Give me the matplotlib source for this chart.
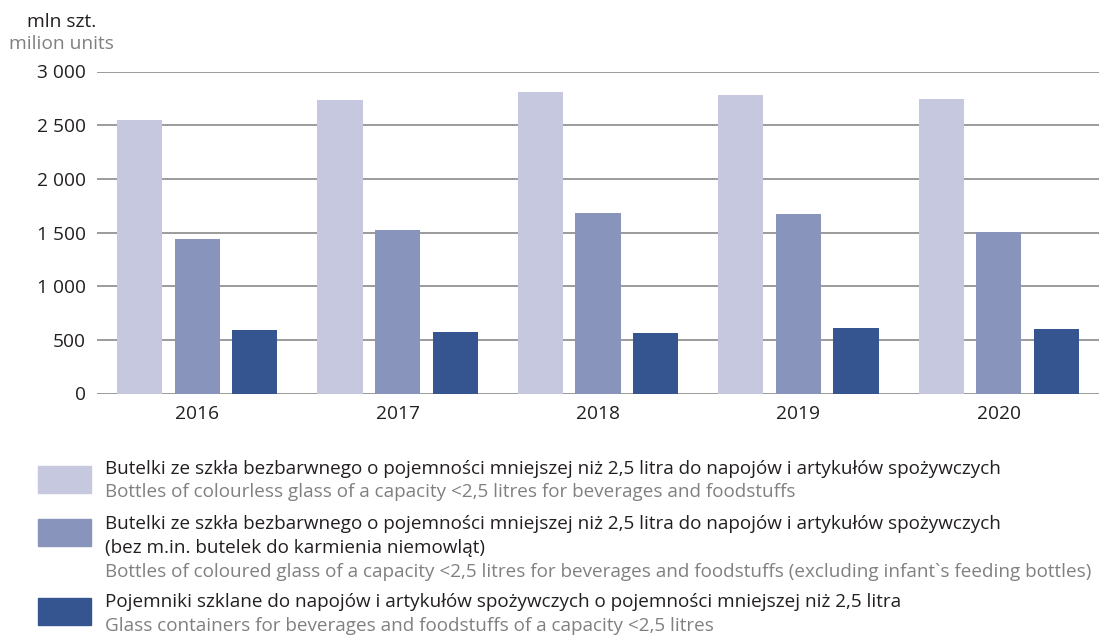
import matplotlib
matplotlib.use('Agg')
import matplotlib.pyplot as plt
import numpy as np
from matplotlib.patches import Rectangle
from matplotlib.ticker import FuncFormatter

plt.rcParams['font.family'] = ['Open Sans', 'DejaVu Sans']

years = ['2016', '2017', '2018', '2019', '2020']
colourless = [2550, 2730, 2810, 2780, 2740]
coloured = [1440, 1520, 1680, 1670, 1505]
containers = [592, 575, 565, 610, 600]

pl_labels = [
    ['Butelki ze szkła bezbarwnego o pojemności mniejszej niż 2,5 litra do napojów i artykułów spożywczych'],
    ['Butelki ze szkła bezbarwnego o pojemności mniejszej niż 2,5 litra do napojów i artykułów spożywczych',
     '(bez m.in. butelek do karmienia niemowląt)'],
    ['Pojemniki szklane do napojów i artykułów spożywczych o pojemności mniejszej niż 2,5 litra'],
]
en_labels = [
    'Bottles of colourless glass of a capacity <2,5 litres for beverages and foodstuffs',
    'Bottles of coloured glass of a capacity <2,5 litres for beverages and foodstuffs (excluding infant`s feeding bottles)',
    'Glass containers for beverages and foodstuffs of a capacity <2,5 litres',
]
colors = ['#c5c8de', '#8994bc', '#34558f']

W, H = 1102, 636
fs = 13.8
lfs = 13.55
fig = plt.figure(figsize=(W / 100, H / 100), dpi=100)
ax = fig.add_axes([97 / W, 1 - 393.5 / H, (1099 - 97) / W, (393.5 - 71.5) / H])

x = np.arange(len(years))
step = 0.2875
width = 0.225
for i, vals in enumerate([colourless, coloured, containers]):
    ax.bar(x + (i - 1) * step, vals, width, color=colors[i], zorder=3)

ax.set_xlim(-0.5, len(years) - 0.5)
ax.set_ylim(0, 3000)
ax.set_yticks(np.arange(0, 3001, 500))
ax.yaxis.set_major_formatter(FuncFormatter(lambda v, p: f'{int(v):,}'.replace(',', ' ')))
ax.set_xticks(x)
ax.set_xticklabels(years)
ax.grid(axis='y', color='#8a8a8a', linewidth=1.2, zorder=0)
ax.tick_params(length=0, labelsize=fs, colors='#231f20')
ax.tick_params(axis='y', pad=8)
ax.tick_params(axis='x', pad=8)
for s in ax.spines.values():
    s.set_visible(False)

fig.text(62 / W, 1 - 22 / H, 'mln szt.', ha='center', va='center', fontsize=fs, color='#231f20')
fig.text(61 / W, 1 - 44 / H, 'milion units', ha='center', va='center', fontsize=fs, color='#808080')

# legend drawn by hand: swatch, polish label line(s), english label in grey
swatch_top = [466, 519, 598]
pl_y = [[469], [524, 548], [602]]
en_y = [492, 572, 626]
for i in range(3):
    fig.add_artist(Rectangle((38 / W, 1 - (swatch_top[i] + 27) / H), 53 / W, 27 / H,
                             transform=fig.transFigure, color=colors[i]))
    for line, yy in zip(pl_labels[i], pl_y[i]):
        fig.text(105 / W, 1 - yy / H, line, ha='left', va='center', fontsize=lfs, color='#231f20')
    fig.text(105 / W, 1 - en_y[i] / H, en_labels[i], ha='left', va='center', fontsize=lfs, color='#808080')

fig.savefig('out.png', dpi=100)
